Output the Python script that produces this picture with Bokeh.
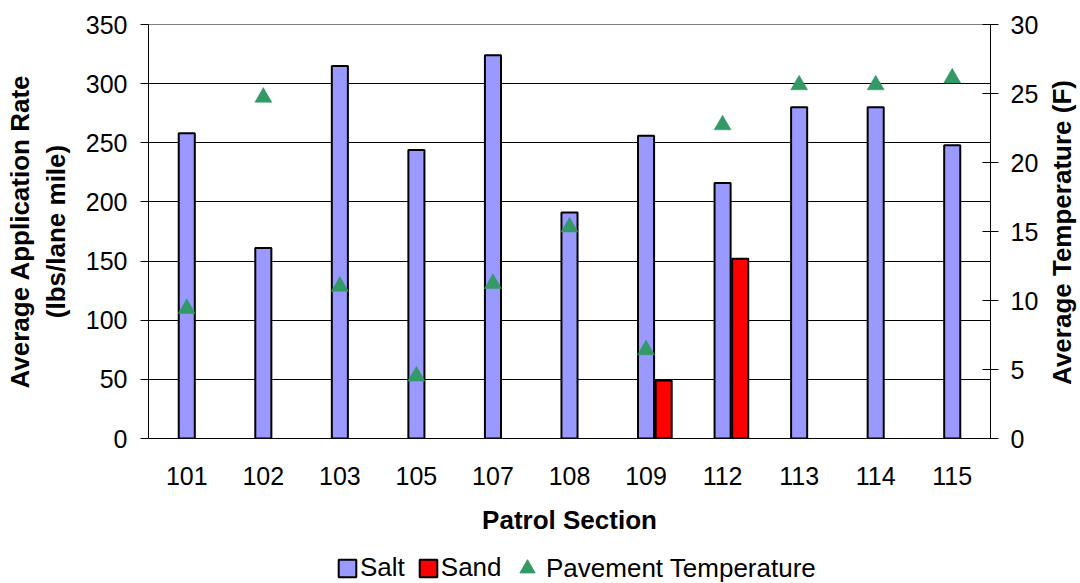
import math
from bokeh.plotting import figure
from bokeh.layouts import column, row
from bokeh.models import (FactorRange, Range1d, LinearAxis, FixedTicker, Legend,
                          LegendItem, ColumnDataSource, Label)
from bokeh.transform import dodge
from bokeh.embed import file_html
from bokeh.resources import INLINE

# ---------------- data ----------------
sections = ["101", "102", "103", "105", "107", "108", "109", "112", "113", "114", "115"]
salt = [258, 161, 315, 244, 324, 191, 256, 216, 280, 280, 248]
sand = [0, 0, 0, 0, 0, 0, 49, 152, 0, 0, 0]
pavement_temp = [9.6, 24.9, 11.2, 4.7, 11.4, 15.5, 6.6, 22.9, 25.8, 25.8, 26.3]
rate_ticks = [0, 50, 100, 150, 200, 250, 300, 350]
temp_ticks = [0, 5, 10, 15, 20, 25, 30]

FONT = "Liberation Sans"
SALT_COLOR = "#9999FF"
SAND_COLOR = "#FF0000"
TEMP_COLOR = "#339966"

src = ColumnDataSource(dict(section=sections, salt=salt, temp=pavement_temp))
sand_idx = [i for i, v in enumerate(sand) if v > 0]
src_sand = ColumnDataSource(dict(section=[sections[i] for i in sand_idx],
                                 sand=[sand[i] for i in sand_idx]))

MAIN_H = 543
FRAME_TOP, FRAME_BOTTOM = 24, 438
p = figure(width=1044, height=MAIN_H, output_backend="svg", toolbar_location=None,
           x_range=FactorRange(factors=sections, range_padding=0),
           y_range=Range1d(rate_ticks[0], rate_ticks[-1]),
           min_border_left=148, min_border_right=54, min_border_top=FRAME_TOP,
           min_border_bottom=MAIN_H - FRAME_BOTTOM)
p.extra_y_ranges = {"temp": Range1d(temp_ticks[0], temp_ticks[-1])}

p.background_fill_color = "white"
p.border_fill_color = "white"
p.outline_line_color = "#808080"
p.outline_line_width = 1

# grid
p.xgrid.grid_line_color = None
p.ygrid.ticker = FixedTicker(ticks=rate_ticks[1:-1])
p.ygrid.grid_line_color = "#000000"
p.ygrid.grid_line_width = 1

BW = 0.21
r_salt = p.vbar(x=dodge("section", 0.0, range=p.x_range), top="salt", bottom=0,
                width=BW, source=src, fill_color=SALT_COLOR, line_color="black",
                line_width=2)
r_sand = p.vbar(x=dodge("section", 0.23, range=p.x_range), top="sand", bottom=0,
                width=BW, source=src_sand, fill_color=SAND_COLOR, line_color="black",
                line_width=2)
# small shift so the triangle's box centre (not its centroid) sits on the value
r_temp = p.scatter(x="section", y=dodge("temp", -0.18), source=src, marker="triangle",
                   size=17, fill_color=TEMP_COLOR, line_color=TEMP_COLOR,
                   line_width=0.5, y_range_name="temp")

# x axis
xa = p.xaxis[0]
xa.axis_label = "Patrol Section"
xa.axis_label_text_font = FONT
xa.axis_label_text_font_style = "bold"
xa.axis_label_text_font_size = "26px"
xa.axis_label_text_color = "black"
xa.axis_label_standoff = 17
xa.major_label_text_font = FONT
xa.major_label_text_font_size = "25px"
xa.major_label_text_color = "black"
xa.major_tick_line_color = None
xa.minor_tick_line_color = None
xa.major_tick_out = 0
xa.major_label_standoff = 28
xa.axis_line_color = "black"
xa.axis_line_width = 1

# left axis
ya = p.yaxis[0]
ya.ticker = FixedTicker(ticks=rate_ticks)
ya.axis_label = "Average Application Rate\n(lbs/lane mile)"
ya.axis_label_text_font = FONT
ya.axis_label_text_font_style = "bold"
ya.axis_label_text_font_size = "26px"
ya.axis_label_text_color = "black"
ya.axis_label_standoff = 12
ya.major_label_text_font = FONT
ya.major_label_text_font_size = "25px"
ya.major_label_text_color = "black"
ya.major_tick_out = 8
ya.major_tick_in = 0
ya.major_tick_line_color = "black"
ya.minor_tick_line_color = None
ya.major_label_standoff = 13
ya.axis_line_color = "black"

# right axis (title drawn separately so it reads bottom-to-top)
yr = LinearAxis(y_range_name="temp", ticker=FixedTicker(ticks=temp_ticks))
yr.major_label_text_font = FONT
yr.major_label_text_font_size = "25px"
yr.major_label_text_color = "black"
yr.major_tick_out = 8
yr.major_tick_in = 8
yr.major_tick_line_color = "black"
yr.minor_tick_line_color = None
yr.major_label_standoff = 12
yr.axis_line_color = "black"
p.add_layout(yr, "right")

# right-side title panel (its frame is aligned with the main frame in the row)
rt = figure(width=36, height=MAIN_H, output_backend="svg", toolbar_location=None,
            x_axis_type=None, y_axis_type=None, min_border=0,
            x_range=Range1d(0, 1), y_range=Range1d(0, 1))
rt.outline_line_color = None
rt.xgrid.visible = False
rt.ygrid.visible = False
rt.add_layout(Label(x=17, y=(FRAME_BOTTOM - FRAME_TOP) / 2 - 1,
                    x_units="screen", y_units="screen",
                    text="Average Temperature (F)", angle=math.pi / 2,
                    text_align="center", text_baseline="middle",
                    text_font=FONT, text_font_style="bold",
                    text_font_size="26px", text_color="black"))

# legend panel
LEG_H = 583 - MAIN_H
lg = figure(width=1080, height=LEG_H, output_backend="svg", toolbar_location=None,
            x_axis_type=None, y_axis_type=None, min_border=0,
            x_range=Range1d(0, 1), y_range=Range1d(0, 1))
lg.outline_line_color = None
lg.xgrid.visible = False
lg.ygrid.visible = False
nan = float("nan")
d_salt = lg.vbar(x=[nan], top=[nan], width=0.1, fill_color=SALT_COLOR,
                 line_color="black", line_width=2)
d_sand = lg.vbar(x=[nan], top=[nan], width=0.1, fill_color=SAND_COLOR,
                 line_color="black", line_width=2)
d_temp = lg.scatter(x=[nan], y=[nan], marker="triangle", fill_color=TEMP_COLOR,
                    line_color=TEMP_COLOR)

leg_common = dict(orientation="horizontal", padding=0, margin=0,
                  border_line_color=None, background_fill_alpha=0,
                  label_text_font=FONT, label_text_font_size="26px",
                  label_text_color="black")
leg1 = Legend(items=[LegendItem(label="Salt", renderers=[d_salt]),
                     LegendItem(label="Sand", renderers=[d_sand])],
              location=(336, 0), glyph_width=22, glyph_height=22,
              label_standoff=2, spacing=12, **leg_common)
leg2 = Legend(items=[LegendItem(label="Pavement Temperature", renderers=[d_temp])],
              location=(508, -4), glyph_width=38, glyph_height=38,
              label_standoff=-3, spacing=0, **leg_common)
lg.add_layout(leg1)
lg.add_layout(leg2)

layout = column(row(p, rt, spacing=0), lg, spacing=0)
open("out.html", "w").write(file_html(layout, INLINE))
